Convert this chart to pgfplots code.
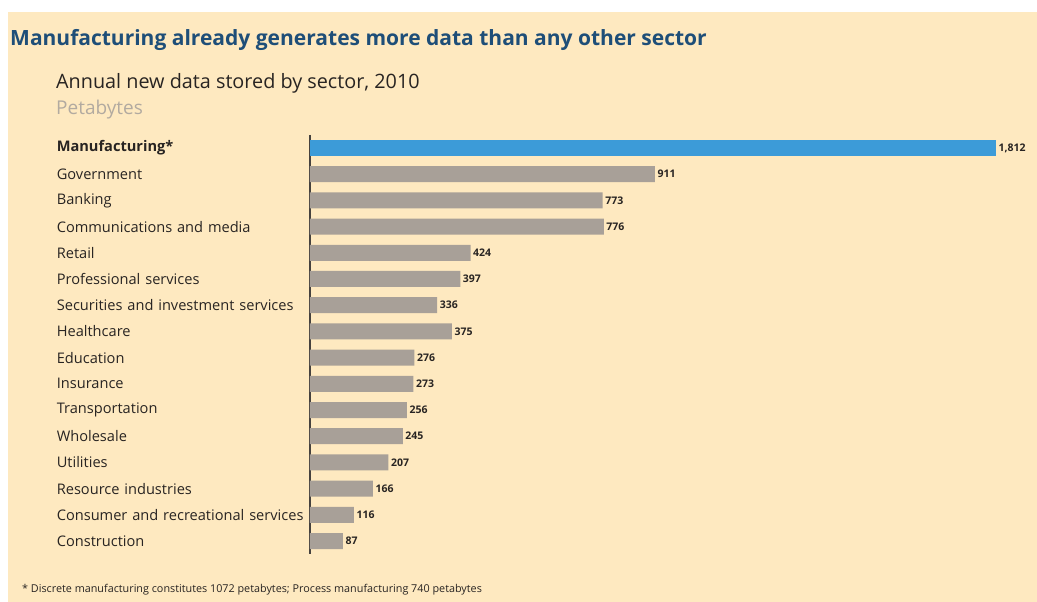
\documentclass[border=0pt]{standalone}
\usepackage{pgfplots}
\pgfplotsset{compat=1.18}
\usepackage{fontspec}
\setmainfont{Open Sans}
\definecolor{bgcream}{RGB}{254,233,192}
\definecolor{titleblue}{RGB}{30,78,120}
\definecolor{barblue}{RGB}{60,155,216}
\definecolor{bargray}{RGB}{168,160,152}
\definecolor{txtdark}{RGB}{40,36,34}
\definecolor{unitgray}{RGB}{178,170,160}
\definecolor{axisdark}{RGB}{70,66,62}
\begin{document}
\begin{tikzpicture}
\useasboundingbox (0,0) rectangle (1037pt,602pt);
\fill[white] (0,0) rectangle (1037pt,602pt);
\fill[bgcream] (8pt,0) rectangle (1037pt,590pt);
\node[anchor=base west, inner sep=0pt, text=titleblue, font=\fontsize{21}{24}\selectfont\bfseries] at (10pt,556pt) {Manufacturing already generates more data than any other sector};
\node[anchor=base west, inner sep=0pt, text=txtdark, font=\fontsize{19.8}{22}\selectfont] at (56pt,513pt) {Annual new data stored by sector, 2010};
\node[anchor=base west, inner sep=0pt, text=unitgray, font=\fontsize{19}{21}\selectfont] at (56pt,487pt) {Petabytes};
\node[anchor=base west, inner sep=0pt, text=txtdark, font=\fontsize{10.8}{12}\selectfont] at (22pt,9pt) {* Discrete manufacturing constitutes 1072 petabytes; Process manufacturing 740 petabytes};
\begin{axis}[
  at={(310pt,47.9pt)}, anchor=south west,
  scale only axis, width=686pt, height=419.2pt,
  xmin=0, xmax=1812, ymin=-0.5, ymax=15.5,
  y dir=reverse,
  axis x line=none,
  axis y line*=left,
  axis line style={-, draw=axisdark, line width=1.8pt},
  xbar, bar width=16pt, bar shift=0pt,
  ytick={0,...,15},
  major tick length=0pt,
  yticklabels={\textbf{Manufacturing*},Government,Banking,Communications and media,Retail,Professional services,Securities and investment services,Healthcare,Education,Insurance,Transportation,Wholesale,Utilities,Resource industries,Consumer and recreational services,Construction},
  yticklabel style={text width=253pt, align=left, inner sep=0pt, text=txtdark, font=\fontsize{14.6}{16}\selectfont},
  nodes near coords,
  nodes near coords style={anchor=west, inner sep=2.5pt, text=txtdark, font=\fontsize{10.5}{11}\selectfont\bfseries, /pgf/number format/assume math mode=true, /pgf/number format/1000 sep={,}},
  clip=false,
]
\addplot[draw=none, fill=barblue] coordinates {(1812,0)};
\addplot[draw=none, fill=bargray] coordinates {
(911,1) (773,2) (776,3) (424,4) (397,5) (336,6) (375,7) (276,8) (273,9) (256,10) (245,11) (207,12) (166,13) (116,14) (87,15)};
\end{axis}
\end{tikzpicture}
\end{document}
